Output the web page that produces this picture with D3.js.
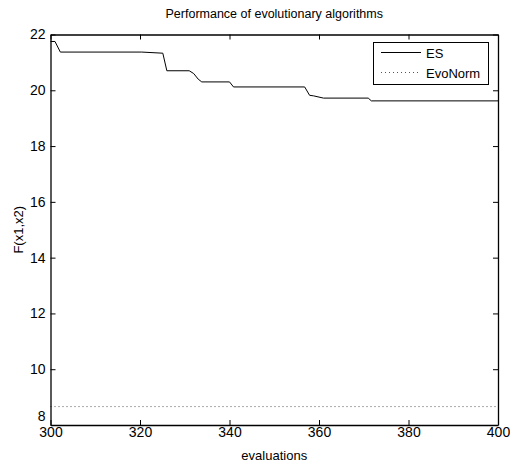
<!DOCTYPE html>
<html>
<head>
<meta charset="utf-8">
<script src="https://cdn.jsdelivr.net/npm/d3@7"></script>
<style>
    body { margin: 0; background: #fff; }
    svg { display: block; }
</style>
</head>
<body>
<div id="canvas"></div>
<script>
"use strict"

let svgWidth = 510
let svgHeight = 466
let margin = { top: 34.5, right: 12, bottom: 41, left: 50.5 }

/* data */
let esX = [300, 301, 302.2, 320.4, 325.1, 326, 331, 332, 333, 333.8, 340, 340.9, 356.8, 357.9, 358.8, 361, 371, 371.7, 400]
let esY = [21.75, 21.75, 21.37, 21.37, 21.33, 20.7, 20.7, 20.6, 20.4, 20.3, 20.3, 20.12, 20.12, 19.82, 19.8, 19.72, 19.72, 19.62, 19.62]
let evoX = [300, 400]
let evoY = [8.66, 8.66]
let xTicks = [300, 320, 340, 360, 380, 400]
let yTicks = [8, 10, 12, 14, 16, 18, 20, 22]
let seriesNames = ["ES", "EvoNorm"]

let font = "Arial, 'Liberation Sans', sans-serif"

let svg = d3.select("#canvas")
    .append("svg")
    .attr("width", svgWidth)
    .attr("height", svgHeight)

let plotW = svgWidth - margin.left - margin.right
let plotH = svgHeight - margin.top - margin.bottom

let xScale = d3.scaleLinear().domain([300, 400]).range([0, plotW])
let yScale = d3.scaleLinear().domain([8, 22]).range([plotH, 0])

let viz = svg.append("g")
    .attr("transform", `translate(${margin.left},${margin.top})`)

/* title */
svg.append("text")
    .attr("x", margin.left + plotW / 2)
    .attr("y", 18)
    .attr("text-anchor", "middle")
    .style("font-family", font)
    .style("font-size", "12.5px")
    .text("Performance of evolutionary algorithms")

/* lines */
let line = d3.line()
    .x(d => xScale(d[0]))
    .y(d => yScale(d[1]))

viz.append("path")
    .datum(d3.zip(esX, esY))
    .attr("d", line)
    .attr("fill", "none")
    .attr("stroke", "black")
    .attr("stroke-width", 1)

viz.append("path")
    .datum(d3.zip(evoX, evoY))
    .attr("d", line)
    .attr("fill", "none")
    .attr("stroke", "#555")
    .attr("stroke-width", 1)
    .attr("stroke-dasharray", "1,3")

/* axes, matlab style: ticks inside, on all four sides */
let xAxisB = viz.append("g")
    .attr("transform", `translate(0,${plotH})`)
    .call(d3.axisBottom(xScale).tickValues(xTicks).tickSizeInner(-5).tickSizeOuter(0).tickPadding(2))
let xAxisT = viz.append("g")
    .call(d3.axisTop(xScale).tickValues(xTicks).tickSizeInner(-5).tickSizeOuter(0).tickFormat(""))
let yAxisL = viz.append("g")
    .call(d3.axisLeft(yScale).tickValues(yTicks).tickSizeInner(-5).tickSizeOuter(0).tickPadding(5))
let yAxisR = viz.append("g")
    .attr("transform", `translate(${plotW},0)`)
    .call(d3.axisRight(yScale).tickValues(yTicks).tickSizeInner(-5).tickSizeOuter(0).tickFormat(""))

for (let ax of [xAxisB, xAxisT, yAxisL, yAxisR]) {
    ax.selectAll("path").attr("stroke", "black").attr("stroke-width", 1.3)
    ax.selectAll("line").attr("stroke", "black")
    ax.selectAll("text")
        .style("font-family", font)
        .style("font-size", "14px")
        .attr("fill", "black")
}
/* the "8" sits just above the corner, clear of the "300" */
yAxisL.selectAll("text").filter(d => d === 8).attr("dy", "-0.3em")

/* x axis label */
svg.append("text")
    .attr("x", margin.left + plotW / 2)
    .attr("y", 460)
    .attr("text-anchor", "middle")
    .style("font-family", font)
    .style("font-size", "13px")
    .text("evaluations")

/* y axis label */
svg.append("text")
    .attr("transform", `translate(23,${margin.top + plotH / 2}) rotate(-90)`)
    .attr("text-anchor", "middle")
    .style("font-family", font)
    .style("font-size", "13px")
    .text("F(x1,x2)")

/* legend */
let legend = svg.append("g")
legend.append("rect")
    .attr("x", 373.5)
    .attr("y", 42.5)
    .attr("width", 115)
    .attr("height", 42)
    .attr("fill", "white")
    .attr("stroke", "black")

let legendDash = [null, "1,3"]
let legendStroke = ["black", "#555"]
for (let i = 0; i < seriesNames.length; i++) {
    let ly = 52.5 + i * 20
    legend.append("line")
        .attr("x1", 381)
        .attr("x2", 421)
        .attr("y1", ly)
        .attr("y2", ly)
        .attr("stroke", legendStroke[i])
        .attr("stroke-dasharray", legendDash[i])
    legend.append("text")
        .attr("x", 426)
        .attr("y", ly + 5)
        .style("font-family", font)
        .style("font-size", "13px")
        .text(seriesNames[i])
}
</script>
</body>
</html>
